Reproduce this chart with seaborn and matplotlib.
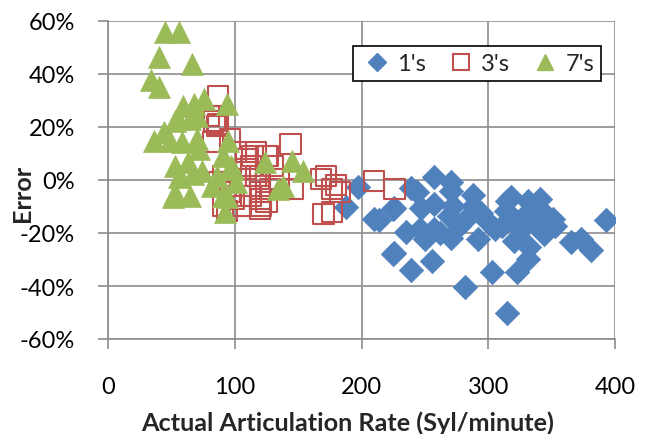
import matplotlib
matplotlib.use("Agg")
import matplotlib.pyplot as plt
import seaborn as sns
import pandas as pd
from matplotlib.lines import Line2D
from matplotlib.ticker import FuncFormatter

# 1's (blue diamonds)
ones_x = [257, 271, 239, 244, 271, 288, 226, 214, 247, 257, 272, 288, 294, 269, 281,
          235, 246, 257, 250, 271, 277, 292, 226, 239, 256, 282, 303, 315, 315, 318,
          314, 319, 331, 341, 332, 340, 305, 311, 320, 330, 337, 344, 351, 353, 332,
          331, 323, 365, 373, 381, 393, 197, 188, 210, 225, 225, 262, 300, 326, 345]
ones_y = [1.2, -0.6, -3.1, -4.4, -4.0, -5.7, -10.7, -15.0, -10.7, -9.0, -9.7, -9.7, -12.5, -13.5, -15.4,
          -19.7, -18.5, -18.5, -22.3, -22.0, -17.2, -22.3, -27.7, -34.0, -30.5, -40.5, -34.6, -50.3, -7.8, -6.5,
          -11.6, -14.0, -7.8, -7.2, -11.6, -12.8, -18.5, -17.2, -22.9, -16.6, -16.6, -20.4, -14.7, -17.2, -25.4,
          -29.8, -34.8, -23.5, -22.3, -26.4, -15.0, -2.8, -10.3, -14.7, -11.0, -28.0, -20.0, -16.0, -19.0, -13.0]

# 3's (red hollow squares)
threes_x = [144, 117, 126, 109, 172, 168, 210, 226, 146, 177, 183, 170, 177, 121, 121,
            94, 91, 104, 113, 128, 135, 117, 113, 91, 96, 87, 80, 84, 87, 86,
            96, 101, 114, 125, 130, 109, 120, 109, 120, 125, 99, 88, 104, 120, 83, 180]
threes_y = [13.6, 10.5, 9.2, 7.9, 1.6, 0.4, -0.3, -3.4, -3.4, -3.4, -4.6, -12.8, -12.2, -9.7, -7.2,
            -11.6, -9.7, -5.9, -5.9, -3.4, 0.4, 1.6, 5.4, 1.6, -4.6, 31.8, 24.3, 22.4, 21.0, 20.5,
            15.5, 10.5, 9.2, 9.2, 5.4, 4.2, 1.6, -2.2, -4.6, -8.4, -7.2, -0.9, -9.7, -11.0, 14.2, -2.0]

# 7's (green triangles)
sevens_x = [45, 56, 40, 66, 34, 40, 59, 68, 76, 94, 53, 70, 44, 36, 55,
            65, 49, 58, 70, 72, 53, 63, 95, 91, 97, 56, 67, 74, 86, 51,
            65, 94, 92, 82, 101, 124, 145, 154, 138, 99, 91, 53, 134]
sevens_y = [55.7, 56.0, 46.3, 43.8, 37.8, 35.0, 28.0, 28.7, 30.6, 28.7, 22.4, 24.3, 18.0, 14.8, 23.0,
            23.0, 14.8, 14.2, 15.5, 11.7, 5.4, 6.7, 14.8, 9.2, 5.4, 1.0, 2.3, 3.5, 1.6, -6.5,
            -5.9, -6.5, -12.2, -2.2, -0.9, 6.7, 7.3, 3.5, -2.2, 4.2, -5.9, -5.0, -3.4]

x_ticks = [0, 100, 200, 300, 400]
y_ticks = [-60, -40, -20, 0, 20, 40, 60]

blue = "#4F81BD"
red = "#C0504D"
green = "#9BBB59"
grid_c = "#8C8C8C"

sns.set_theme(style="white")
plt.rcParams["font.family"] = ["Lato", "DejaVu Sans"]
plt.rcParams["axes.unicode_minus"] = False

fig = plt.figure(figsize=(6.48, 4.35), dpi=100)
ax = fig.add_axes([108 / 648, 1 - 340 / 435, (615 - 108) / 648, (340 - 22) / 435])

d1 = pd.DataFrame({"x": ones_x, "y": ones_y})
d3 = pd.DataFrame({"x": threes_x, "y": threes_y})
d7 = pd.DataFrame({"x": sevens_x, "y": sevens_y})

sns.scatterplot(data=d1, x="x", y="y", ax=ax, marker="D", s=155, color=blue,
                edgecolor=blue, linewidth=0.5, zorder=3)
sns.scatterplot(data=d3, x="x", y="y", ax=ax, marker="s", s=210, facecolors="none",
                edgecolor=red, linewidth=1.5, zorder=4)
sns.scatterplot(data=d7, x="x", y="y", ax=ax, marker="^", s=250, color=green,
                edgecolor=green, linewidth=0.5, zorder=5)

ax.set_xlim(0, 400)
ax.set_ylim(-60, 60)
ax.set_xticks(x_ticks)
ax.set_yticks(y_ticks)
ax.yaxis.set_major_formatter(FuncFormatter(lambda v, p: f"{v:.0f}%"))
ax.grid(True, color=grid_c, linewidth=1.2, zorder=0)
ax.set_axisbelow(True)
for sp in ax.spines.values():
    sp.set_visible(False)
ax.spines["left"].set_visible(True)
ax.spines["bottom"].set_visible(True)
ax.spines["left"].set_color(grid_c)
ax.spines["bottom"].set_color(grid_c)
ax.spines["left"].set_linewidth(1.2)
ax.spines["bottom"].set_linewidth(1.2)
ax.tick_params(axis="both", which="both", direction="out", length=7, width=1.2,
               color=grid_c, labelsize=17, labelcolor="black", left=True, bottom=True)
ax.tick_params(axis="x", pad=20)
ax.tick_params(axis="y", pad=17)

ax.set_xlabel("Actual Articulation Rate (Syl/minute)", fontsize=18.2, fontweight="bold")
ax.set_ylabel("Error", fontsize=18.2, fontweight="bold")
ax.xaxis.set_label_coords((347.5 - 108) / 507, -(423 - 340) / 318)
ax.yaxis.set_label_coords(-(108 - 22) / 507, (340 - 193) / 318)
ax.xaxis.label.set_va("center")
ax.yaxis.label.set_va("center")

handles = [
    Line2D([], [], marker="D", linestyle="", markersize=9, color=blue, markeredgecolor=blue),
    Line2D([], [], marker="s", linestyle="", markersize=11, markerfacecolor="none",
           markeredgecolor=red, markeredgewidth=1.5),
    Line2D([], [], marker="^", linestyle="", markersize=12, color=green, markeredgecolor=green),
]
leg = ax.legend(handles, ["1's", "3's", "7's"], ncol=3, loc="upper left",
                bbox_to_anchor=((353 - 108) / 507, 1 - (47 - 22) / 318),
                fontsize=17, frameon=True, fancybox=False, borderpad=0.3,
                handletextpad=0.15, columnspacing=0.8, handlelength=1.4,
                borderaxespad=0)
leg.get_frame().set_edgecolor("black")
leg.get_frame().set_linewidth(1.2)
leg.get_frame().set_facecolor("white")
leg.get_frame().set_alpha(1)
leg.set_zorder(10)

fig.savefig("out.png", dpi=100)
